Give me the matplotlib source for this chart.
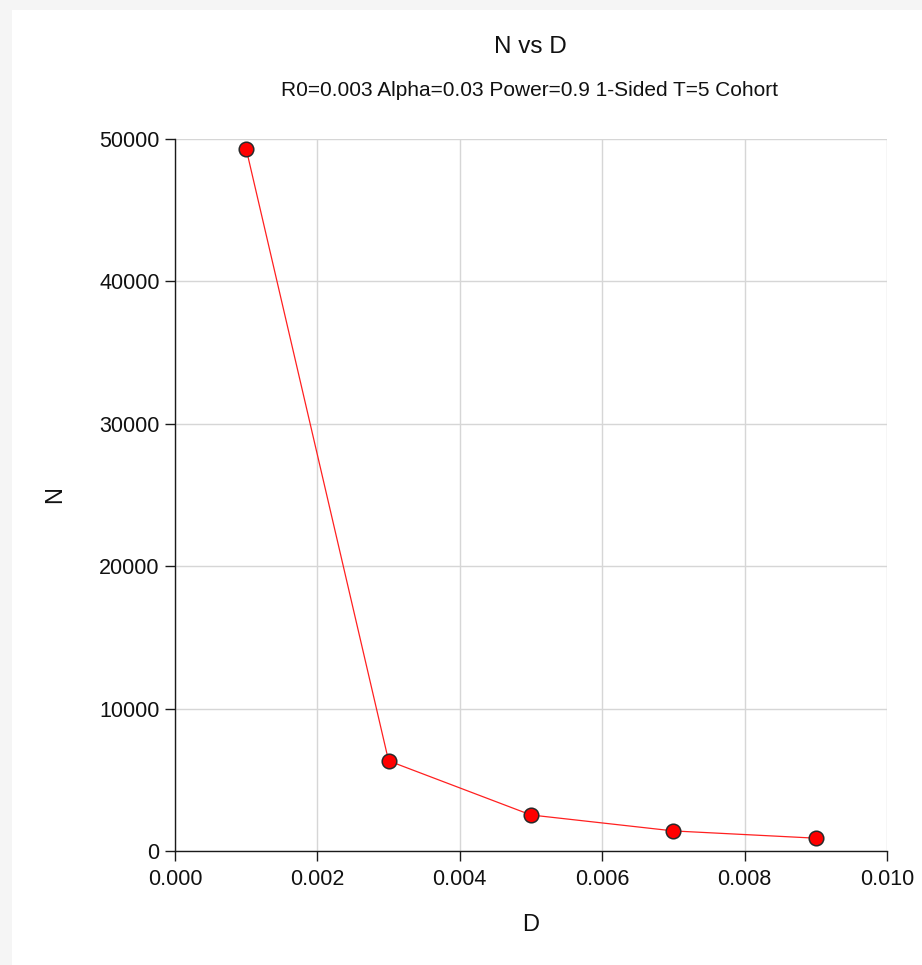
import matplotlib
matplotlib.use("Agg")
import matplotlib.pyplot as plt
from matplotlib.patches import Rectangle

plt.rcParams['font.family'] = ['Liberation Sans', 'DejaVu Sans']

D = [0.001, 0.003, 0.005, 0.007, 0.009]
N = [49300, 6330, 2530, 1410, 900]
x_ticks = [0.000, 0.002, 0.004, 0.006, 0.008, 0.010]
x_labels = ["0.000", "0.002", "0.004", "0.006", "0.008", "0.010"]
y_ticks = [0, 10000, 20000, 30000, 40000, 50000]
y_labels = ["0", "10000", "20000", "30000", "40000", "50000"]

W, H = 922, 965
fig = plt.figure(figsize=(W / 100, H / 100), dpi=100)
fig.patch.set_facecolor('#f5f5f5')
bg = Rectangle((12 / W, 0), 1 - 12 / W, 1 - 10 / H, transform=fig.transFigure,
               facecolor='white', edgecolor='none', zorder=-10)
fig.add_artist(bg)

ax = fig.add_axes([175 / W, 1 - 851 / H, (887 - 175) / W, (851 - 139) / H])
ax.set_facecolor('white')
ax.plot(D, N, color='#ff2020', lw=0.9, marker='o', markersize=10.5,
        markerfacecolor='#ff0000', markeredgecolor='#2a2a2a', markeredgewidth=1.1, zorder=3,
        clip_on=False)

ax.set_xlim(0, 0.010)
ax.set_ylim(0, 50000)
ax.set_xticks(x_ticks)
ax.set_xticklabels(x_labels)
ax.set_yticks(y_ticks)
ax.set_yticklabels(y_labels)
ax.grid(True, color='#d6d6d6', lw=1.0)
ax.set_axisbelow(True)
for s in ['top', 'right']:
    ax.spines[s].set_visible(False)
for s in ['left', 'bottom']:
    ax.spines[s].set_color('#1a1a1a')
    ax.spines[s].set_linewidth(1.0)
ax.tick_params(axis='both', direction='out', length=7, width=1.0, color='#1a1a1a',
               labelsize=15.5, labelcolor='#111111')
ax.tick_params(axis='x', pad=6)
ax.tick_params(axis='y', pad=4)

fig.text(530 / W, 1 - 47 / H, "N vs D", ha='center', va='center',
         fontsize=17.5, color='#111111')
fig.text((278 + 781) / 2 / W, 1 - 90 / H, "R0=0.003 Alpha=0.03 Power=0.9 1-Sided T=5 Cohort",
         ha='center', va='center', fontsize=15, color='#111111')
fig.text((175 + 887) / 2 / W, 1 - 925 / H, "D", ha='center', va='center',
         fontsize=17, color='#111111')
fig.text(55 / W, 1 - 495 / H, "N", ha='center', va='center', rotation=90,
         fontsize=17, color='#111111')

fig.savefig("out.png", dpi=100, facecolor=fig.get_facecolor())
